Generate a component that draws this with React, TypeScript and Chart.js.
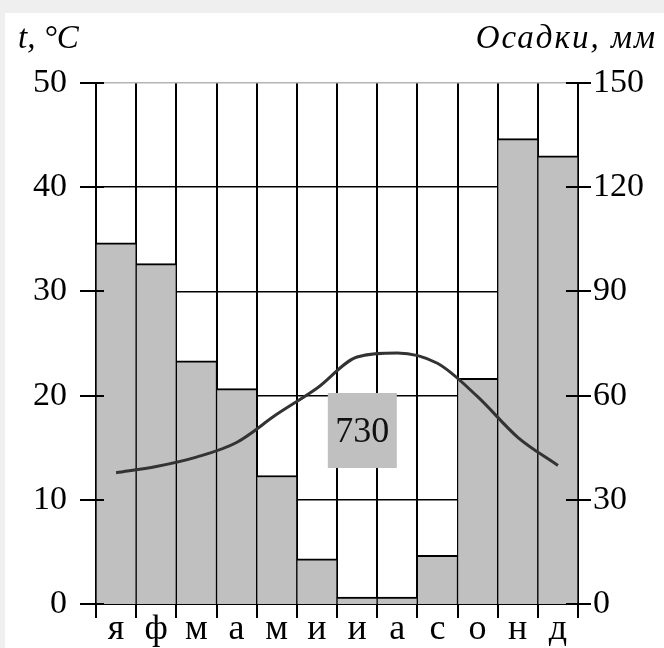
import React, { useEffect, useRef } from "react";
import { Chart, registerables } from "chart.js";

Chart.register(...registerables);

const months = ["я", "ф", "м", "а", "м", "и", "и", "а", "с", "о", "н", "д"];
const temperature = [12.6, 13.2, 14.1, 15.5, 18.2, 20.7, 23.7, 24.1, 23.1, 19.9, 16.0, 13.3];
const precipitation = [104, 98, 70, 62, 37, 13, 2, 2, 14, 65, 134, 129];
const tempTicks = { min: 0, max: 50, step: 10 };
const precTicks = { min: 0, max: 150, step: 30 };
const totalLabelIndex = 6.13;
const totalLabelTemp = 16.65;

const SERIF = "'Liberation Serif', 'DejaVu Serif', serif";

const overlay = {
  id: "overlay",
  afterDatasetsDraw(chart: any) {
    const { ctx, chartArea, scales } = chart;
    const { left, right, bottom } = chartArea;
    const x = scales.x;
    const y = scales.y;
    const y1 = scales.y1;
    ctx.save();
    const total = precipitation.reduce((a, b) => a + b, 0);
    const cx = x.getPixelForValue(totalLabelIndex);
    const cy = y.getPixelForValue(totalLabelTemp);
    ctx.fillStyle = "#c0c0c0";
    ctx.fillRect(cx - 34.5, cy - 37.5, 69, 75);
    ctx.fillStyle = "#111";
    ctx.font = `36px ${SERIF}`;
    ctx.textAlign = "center";
    ctx.textBaseline = "middle";
    ctx.fillText(String(total), cx, cy + 2);

    const seg = (x0: number, y0: number, x1: number, y1p: number) => {
      ctx.beginPath();
      ctx.moveTo(x0, y0);
      ctx.lineTo(x1, y1p);
      ctx.stroke();
    };
    ctx.strokeStyle = "#000";
    ctx.lineWidth = 2;
    y.ticks.forEach((t: any) => {
      const py = Math.round(y.getPixelForValue(t.value));
      seg(left - 16, py, left + 8, py);
    });
    y1.ticks.forEach((t: any) => {
      const py = Math.round(y1.getPixelForValue(t.value));
      seg(right - 12, py, right + 13, py);
    });
    for (let i = 0; i <= months.length; i++) {
      const px = Math.round(x.getPixelForValue(i - 0.5));
      seg(px, bottom, px, bottom + 14);
    }
    ctx.restore();
  },
};

export default function App() {
  const ref = useRef<HTMLCanvasElement | null>(null);
  useEffect(() => {
    if (!ref.current) return;
    const chart = new Chart(ref.current, {
      type: "bar",
      data: {
        labels: months,
        datasets: [
          {
            type: "line",
            label: "t",
            data: temperature,
            yAxisID: "y",
            borderColor: "#333333",
            borderWidth: 3,
            pointRadius: 0,
            tension: 0.3,
            cubicInterpolationMode: "monotone",
            order: 0,
          } as any,
          {
            type: "bar",
            label: "Осадки",
            data: precipitation,
            yAxisID: "y1",
            backgroundColor: "#c0c0c0",
            borderColor: "#000",
            borderWidth: { top: 2, left: 1, right: 1, bottom: 0 },
            borderSkipped: false,
            barPercentage: 1,
            categoryPercentage: 1,
            order: 1,
          } as any,
        ],
      },
      options: {
        responsive: false,
        animation: false,
        layout: { padding: { top: 70, left: 0, right: 0, bottom: 0 } },
        plugins: { legend: { display: false }, tooltip: { enabled: false } },
        scales: {
          x: {
            offset: true,
            grid: { offset: true, color: "#000", lineWidth: 2, drawTicks: false },
            border: { display: true, color: "#000", width: 2 },
            ticks: { color: "#000", font: { family: SERIF, size: 36 }, padding: 4 },
            afterFit: (s: any) => {
              s.height = 44;
            },
          },
          y: {
            position: "left",
            min: tempTicks.min,
            max: tempTicks.max,
            grid: {
              color: (c: any) => (c.tick && c.tick.value === tempTicks.max ? "#b4b4b4" : "#000"),
              lineWidth: 1.5,
              drawTicks: false,
            },
            border: { display: true, color: "#000", width: 2 },
            ticks: {
              stepSize: tempTicks.step,
              color: "#000",
              font: { family: SERIF, size: 34 },
              padding: 29,
            },
            afterFit: (s: any) => {
              s.width = 91;
              s.paddingTop = 0;
              s.paddingBottom = 0;
            },
          },
          y1: {
            position: "right",
            min: precTicks.min,
            max: precTicks.max,
            grid: { display: false, drawTicks: false },
            border: { display: true, color: "#000", width: 2 },
            ticks: {
              stepSize: precTicks.step,
              color: "#000",
              font: { family: SERIF, size: 34 },
              padding: 15,
            },
            afterFit: (s: any) => {
              s.width = 86;
              s.paddingTop = 0;
              s.paddingBottom = 0;
            },
          },
        },
      },
      plugins: [overlay],
    });
    return () => chart.destroy();
  }, []);

  const titleStyle: React.CSSProperties = {
    position: "absolute",
    top: 6,
    fontFamily: SERIF,
    fontStyle: "italic",
    fontSize: 33,
    lineHeight: "36px",
    color: "#000",
  };

  return (
    <div
      style={{
        position: "absolute",
        left: 0,
        top: 0,
        width: 664,
        height: 648,
        background: "#efefef",
        overflow: "hidden",
      }}
    >
      <div
        style={{
          position: "absolute",
          left: 5,
          top: 13,
          width: 659,
          height: 635,
          background: "#fff",
        }}
      >
        <canvas ref={ref} width={659} height={635} style={{ display: "block" }} />
        <span style={{ ...titleStyle, left: 13 }}>t, °C</span>
        <span style={{ ...titleStyle, right: 7, letterSpacing: 2 }}>Осадки, мм</span>
      </div>
    </div>
  );
}
